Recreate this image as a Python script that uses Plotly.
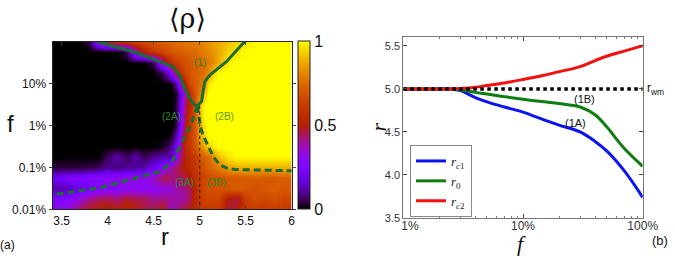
import math
import plotly.graph_objects as go

# ---------------- data: panel (a) heatmap ----------------
r_grid = [3.4, 3.5, 3.6, 3.7, 3.8, 3.9, 4.0, 4.1, 4.2, 4.3, 4.4, 4.5, 4.6,
          4.65, 4.7, 4.75, 4.8, 4.85, 4.9, 4.95, 5.0, 5.05, 5.1, 5.15, 5.2,
          5.3, 5.4, 5.5, 5.6, 5.7, 5.8, 5.9, 6.0]
f_grid = [0.01, 0.0178, 0.0316, 0.0562, 0.1, 0.178, 0.316, 0.562, 1, 1.78, 3.16,
          5.62, 10, 17.8, 31.6, 56.2, 100]  # percent
O8 = [1, 1, 1, 1, 1, 1, 1, 1]
Z13 = [0] * 13
rho = [
    [0.28,0.30,0.35,0.45,0.50,0.50,0.52,0.50,0.52,0.50,0.45,0.45,0.50,
     0.42,0.35,0.40,0.45,0.48,0.50,0.55,0.58,0.60,0.60,0.60,0.60,
     0.45,0.50,0.60,0.62,0.60,0.62,0.60,0.60],
    [0.25,0.25,0.28,0.35,0.40,0.45,0.45,0.42,0.48,0.45,0.45,0.40,0.42,
     0.40,0.40,0.38,0.38,0.40,0.45,0.55,0.60,0.65,0.65,0.65,0.65,
     0.50,0.45,0.62,0.68,0.65,0.68,0.65,0.65],
    [0.12,0.12,0.14,0.18,0.22,0.25,0.28,0.28,0.30,0.30,0.30,0.30,0.32,
     0.33,0.35,0.38,0.40,0.42,0.45,0.55,0.62,0.66,0.68,0.68,0.68,
     0.70,0.72,0.70,0.68,0.70,0.72,0.70,0.70],
    [0.20,0.22,0.24,0.25,0.27,0.28,0.30,0.30,0.32,0.32,0.32,0.36,0.45,
     0.45,0.42,0.42,0.45,0.45,0.50,0.58,0.62,0.65,0.66,0.68,0.68,
     0.70,0.70,0.72,0.72,0.70,0.70,0.72,0.72],
    [0.04,0.04,0.04,0.04,0.05,0.06,0.10,0.08,0.10,0.10,0.12,0.20,0.28,
     0.35,0.40,0.45,0.48,0.52,0.55,0.60,0.65,0.70,0.72,0.75,0.78,
     0.85,0.88,0.88,0.88,0.88,0.88,0.88,0.88],
    [0,0,0,0,0,0,0.06,0.12,0.06,0.12,0.05,0.10,0.12,
     0.12,0.15,0.30,0.45,0.52,0.58,0.62,0.68,0.72,0.75,0.82,0.90,
     0.97,1,1,1,1,1,1,1],
    [0,0,0,0,0,0,0,0,0,0,0,0,0.02,
     0.05,0.12,0.25,0.42,0.55,0.62,0.70,0.80,0.88,0.93,0.98,1,
     O8],
    [Z13,
     0,0.03,0.15,0.38,0.52,0.62,0.72,0.85,0.95,1,1,1,
     O8],
    [Z13,
     0,0,0.05,0.30,0.50,0.60,0.72,0.88,0.98,1,1,1,
     O8],
    [Z13,
     0,0,0.05,0.28,0.48,0.58,0.72,0.90,1,1,1,1,
     O8],
    [Z13,
     0,0,0.05,0.25,0.45,0.55,0.70,0.90,1,1,1,1,
     O8],
    [Z13,
     0,0,0.03,0.22,0.42,0.58,0.70,0.78,0.92,1,1,1,
     O8],
    [Z13,
     0,0.02,0.15,0.38,0.55,0.68,0.72,0.75,0.82,0.97,1,1,
     O8],
    [0,0,0,0,0,0,0,0,0,0,0,0,0.05,
     0.15,0.35,0.50,0.60,0.66,0.70,0.72,0.74,0.76,0.82,0.95,1,
     O8],
    [0,0,0,0,0,0,0,0,0,0,0,0.05,0.35,
     0.50,0.58,0.62,0.65,0.68,0.70,0.72,0.74,0.76,0.78,0.82,0.88,
     0.98,1,1,1,1,1,1,1],
    [0,0,0,0,0,0,0,0,0.05,0.35,0.52,0.60,0.65,
     0.68,0.70,0.71,0.72,0.73,0.74,0.75,0.77,0.79,0.81,0.84,0.87,
     0.93,0.97,1,1,1,1,1,1],
    [0,0,0,0,0.05,0.35,0.48,0.55,0.60,0.64,0.68,0.70,0.72,
     0.73,0.74,0.75,0.76,0.77,0.78,0.79,0.80,0.82,0.84,0.86,0.88,
     0.91,0.94,0.97,1,1,1,1,1],
]
rho = [[v for part in row for v in (part if isinstance(part, list) else [part])] for row in rho]

# boundary curves (percent)
line1_r = [3.885, 4.05, 4.28, 4.5, 4.71, 4.78, 4.82, 4.89, 4.945, 4.975, 5.02, 5.036, 5.055, 5.11, 5.29, 5.47, 5.5]
line1_f = [100, 79.4, 57.5, 38, 25.1, 16, 9.3, 4.47, 3.09, 2.95, 3.72, 6.46, 11.1, 16, 33.3, 91.2, 100]
line2a_r = [4.975, 4.95, 4.91, 4.80, 4.71, 4.59, 4.45, 4.28, 4.1, 3.92, 3.65, 3.4]
line2a_f = [2.95, 2.0, 1.12, 0.38, 0.15, 0.083, 0.068, 0.052, 0.042, 0.033, 0.027, 0.022]
line2b_r = [4.975, 4.99, 5.008, 5.04, 5.09, 5.15, 5.217, 5.3, 5.4, 5.6, 5.8, 6.0]
line2b_f = [2.95, 1.78, 0.93, 0.56, 0.32, 0.178, 0.115, 0.095, 0.089, 0.087, 0.085, 0.083]
vline_r = [5.0, 5.0]
vline_f = [2.95, 0.01]
f_ticks = [0.01, 0.1, 1, 10]
f_ticktext = ["0.01%", "0.1%", "1%", "10%"]

# ---------------- data: panel (b) ----------------
f_b = [1, 2, 2.5, 3, 4, 5, 7, 10, 15, 20, 30, 40, 50, 70, 100]  # percent
r_c1 = [5.0, 5.0, 5.0, 4.98, 4.90, 4.85, 4.79, 4.73, 4.64, 4.58, 4.50, 4.39, 4.28, 4.05, 3.74]
r_0 = [5.0, 5.0, 5.0, 4.99, 4.96, 4.94, 4.91, 4.88, 4.85, 4.83, 4.79, 4.70, 4.56, 4.31, 4.10]
r_c2 = [5.0, 5.0, 5.0, 5.005, 5.02, 5.04, 5.07, 5.11, 5.16, 5.20, 5.26, 5.33, 5.38, 5.44, 5.50]
r_wm_f = [1, 100]
r_wm = [5.0, 5.0]
fb_ticks = [1, 10, 100]
fb_ticktext = ["\u00a0\u00a0\u00a0\u00a01%", "10%", "100%"]

W, H = 675, 260
def px(x): return x / W
def py(y): return 1 - y / H
lg = lambda seq: [math.log10(v) for v in seq]   # panel (a) y axis is log10(f)

# gnuplot 7,5,15 palette
cs = []
for i in range(21):
    t = i / 20
    rr = math.sqrt(t); gg = t ** 3; bb = max(0.0, math.sin(2 * math.pi * t))
    cs.append([t, "rgb(%d,%d,%d)" % (round(255 * rr), round(255 * gg), round(255 * bb))])

GREEN = "#1d6b35"
DASH = "7px,4px"
fig = go.Figure()
fig.add_trace(go.Heatmap(
    x=r_grid, y=lg(f_grid), z=rho, zmin=0, zmax=1, zsmooth="best", colorscale=cs,
    xaxis="x", yaxis="y", showlegend=False, hoverinfo="skip",
    colorbar=dict(x=px(297.7), xanchor="left", xpad=0, ypad=0, thickness=11.5,
                  lenmode="pixels", len=167.6, y=py(209.3), yanchor="bottom",
                  outlinewidth=1, outlinecolor="#222", tickvals=[0, 0.5, 1],
                  ticktext=["0", "0.5", "1"], ticks="",
                  tickfont=dict(family="Liberation Sans", size=16, color="#111")),
))
fig.add_trace(go.Scatter(x=line1_r, y=lg(line1_f), mode="lines", line=dict(color=GREEN, width=3),
                         xaxis="x", yaxis="y", showlegend=False))
fig.add_trace(go.Scatter(x=line2a_r, y=lg(line2a_f), mode="lines", line=dict(color=GREEN, width=3, dash=DASH),
                         xaxis="x", yaxis="y", showlegend=False))
fig.add_trace(go.Scatter(x=line2b_r, y=lg(line2b_f), mode="lines", line=dict(color=GREEN, width=3, dash=DASH),
                         xaxis="x", yaxis="y", showlegend=False))
fig.add_trace(go.Scatter(x=vline_r, y=lg(vline_f), mode="lines", line=dict(color="#222", width=1, dash="dot"),
                         xaxis="x", yaxis="y", showlegend=False))

# panel b
fig.add_trace(go.Scatter(x=f_b, y=r_c1, mode="lines", line=dict(color="#0a14f0", width=3, shape="spline"),
                         name="<i>r</i><sub><i>c</i>1</sub>", xaxis="x2", yaxis="y2"))
fig.add_trace(go.Scatter(x=f_b, y=r_0, mode="lines", line=dict(color="#0f7d0f", width=3, shape="spline"),
                         name="<i>r</i><sub>0</sub>", xaxis="x2", yaxis="y2"))
fig.add_trace(go.Scatter(x=f_b, y=r_c2, mode="lines", line=dict(color="#f50f0f", width=3, shape="spline"),
                         name="<i>r</i><sub><i>c</i>2</sub>", xaxis="x2", yaxis="y2"))
fig.add_trace(go.Scatter(x=r_wm_f, y=r_wm, mode="lines", line=dict(color="black", width=3.5, dash="dot"),
                         xaxis="x2", yaxis="y2", showlegend=False))

minor_vals = [m * d for d in (1, 10) for m in range(2, 10)]
tick_font = dict(family="Liberation Sans", size=12, color="#111")
fig.update_layout(
    width=W, height=H, margin=dict(l=0, r=0, t=0, b=0, autoexpand=False),
    paper_bgcolor="white", plot_bgcolor="white",
    xaxis=dict(domain=[px(52.5), px(291.7)], range=[3.4, 6.0], tickvals=[3.5, 4, 4.5, 5, 5.5, 6],
               ticktext=["3.5", "4", "4.5", "5", "5.5", "6"], ticks="inside", ticklen=3,
               showline=True, linecolor="#222", mirror="allticks", showgrid=False, zeroline=False,
               tickfont=tick_font, anchor="y", automargin=False),
    yaxis=dict(domain=[py(209.3), py(41.7)], range=[-2, 2],
               tickvals=lg(f_ticks), ticktext=f_ticktext,
               ticks="outside", ticklen=3, showline=True, linecolor="#222", mirror="allticks",
               showgrid=False, zeroline=False, tickfont=tick_font, anchor="x", automargin=False),
    xaxis2=dict(domain=[px(403.3), px(642.7)], type="log", range=[0, 2],
                tickvals=fb_ticks, ticktext=fb_ticktext, ticks="inside", ticklen=4,
                minor=dict(tickvals=minor_vals, ticks="inside", ticklen=2, tickcolor="#777"),
                showline=True, linecolor="#777", mirror="allticks", showgrid=False, zeroline=False,
                ticklabelstandoff=-3,
                tickfont=dict(family="Liberation Sans", size=12, color="#333"), anchor="y2",
                automargin=False),
    yaxis2=dict(domain=[py(218), py(37.3)], range=[3.5, 5.6], tickvals=[3.5, 4.0, 4.5, 5.0, 5.5],
                tickformat=".1f", ticks="inside", ticklen=4, showline=True, linecolor="#777",
                mirror="allticks", showgrid=False, zeroline=False,
                tickfont=dict(family="Liberation Sans", size=11, color="#333"), anchor="x2",
                automargin=False),
    legend=dict(x=px(410), y=py(145), xanchor="left", yanchor="top", bgcolor="white",
                bordercolor="#888", borderwidth=1,
                font=dict(family="Liberation Serif", size=13, color="#222"),
                tracegroupgap=0),
)

ann = []
def T(x, y, text, size, color="#111", family="Liberation Sans", xanchor="center", angle=0):
    ann.append(dict(x=px(x), y=py(y), xref="paper", yref="paper", text=text, showarrow=False,
                    xanchor=xanchor, yanchor="middle", textangle=angle,
                    font=dict(family=family, size=size, color=color)))

T(187, 19, "⟨ρ⟩", 27, family="DejaVu Serif")
T(10, 123, "f", 24)
T(165, 236, "r", 24)
T(7, 245, "(a)", 12)
LG = "#2a8a2a"
T(200, 62.7, "(1)", 10, LG)
T(171.7, 116.7, "(2A)", 10, LG)
T(224, 116.7, "(2B)", 10, "#5a9e1a")
T(184, 182.7, "(3A)", 10, LG)
T(216.7, 182.7, "(3B)", 10, LG)
T(584.3, 99, "(1B)", 11)
T(575, 122.7, "(1A)", 11)
T(645, 89, "r<sub>wm</sub>", 12, xanchor="left")
T(660, 240, "(b)", 13)
T(521, 243, "<i>f</i>", 22, family="Liberation Serif")
T(377.5, 127, "<i>r</i>", 22, family="Liberation Serif", angle=-90)
fig.update_layout(annotations=ann)

fig.write_html("out.html", config={"displayModeBar": False},
               post_script="document.body.style.margin='0';")
